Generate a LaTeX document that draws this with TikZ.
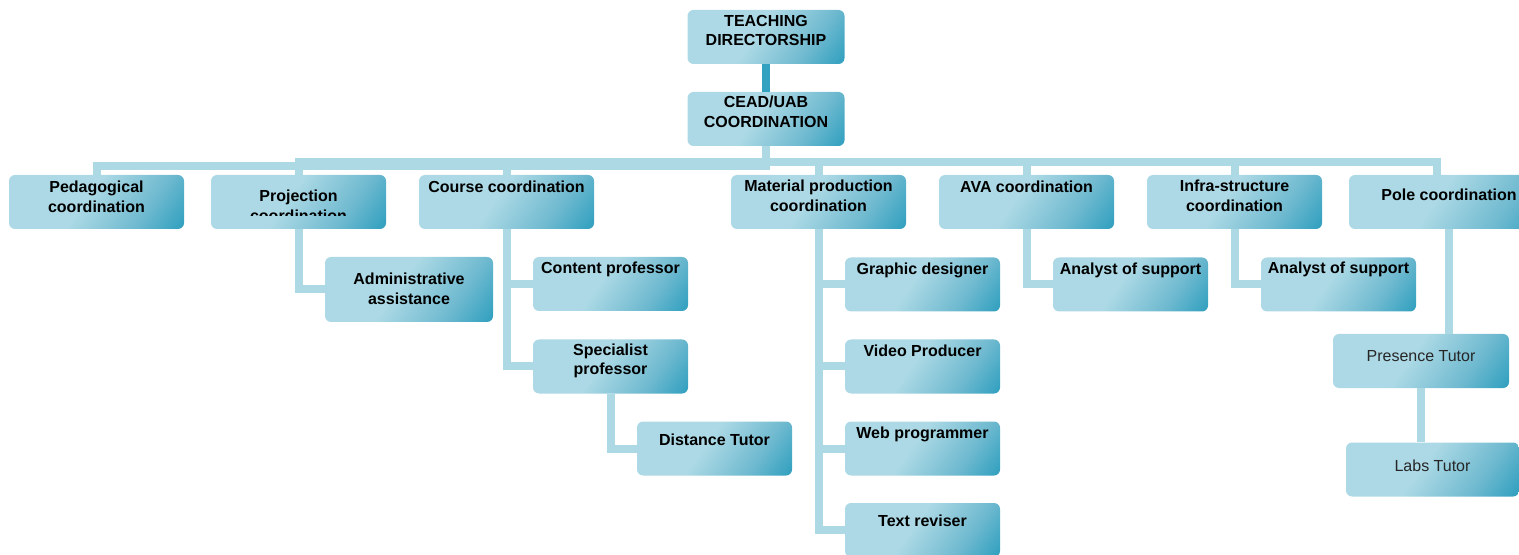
\documentclass[tikz,border=0pt]{standalone}
\usepackage{fontspec}
\setmainfont{Liberation Sans}
\usepackage{tikz}

\definecolor{boxlight}{RGB}{172,217,229}
\definecolor{boxmid}{RGB}{112,186,208}
\definecolor{boxdark}{RGB}{49,160,191}
\definecolor{linkblue}{RGB}{173,217,229}
\definecolor{headblue}{RGB}{51,161,192}

\pgfdeclarehorizontalshading{boxfill}{100bp}{color(0bp)=(boxlight); color(46bp)=(boxlight); color(68bp)=(boxmid); color(84bp)=(boxdark); color(100bp)=(boxdark)}

\tikzstyle{unit} = [rectangle, rounded corners=3pt, minimum width=87.5pt, minimum height=27pt, inner sep=0pt, shade, shading=boxfill, shading angle=-35]
\tikzstyle{subunit} = [unit, minimum width=77.5pt]
\tikzstyle{caption} = [anchor=north, inner sep=0pt, align=center, font=\fontsize{8}{9.75}\selectfont\bfseries]
\tikzstyle{lightcaption} = [caption, font=\fontsize{8}{9.75}\selectfont, text=black!85]
\tikzstyle{link} = [line width=4pt, draw=linkblue]
\tikzstyle{headlink} = [line width=4pt, draw=headblue]

\begin{document}
\begin{tikzpicture}[x=0.5pt, y=-0.5pt]
\useasboundingbox (0,0) rectangle (1519,555);

% top of the chart
\node (teach) [unit, minimum width=78.5pt, label={[caption, yshift=-2.6pt]north:TEACHING\\DIRECTORSHIP}] at (766,37) {};
\node (cead) [unit, minimum width=78.5pt, label={[caption, yshift=-2.1pt]north:CEAD/UAB\\COORDINATION}] at (766,119) {};
\draw [headlink] (teach) -- (cead);

% coordinations
\node (ped) [unit, label={[caption, yshift=-3.1pt]north:Pedagogical\\coordination}] at (96.5,202) {};
\node (proj) [unit] at (298.5,202) {};
\node (course) [unit, label={[caption, yshift=-3.1pt]north:Course coordination}] at (506.5,202) {};
\node (mat) [unit, label={[caption, yshift=-2.6pt]north:Material production\\coordination}] at (818.5,202) {};
\node (ava) [unit, label={[caption, yshift=-3.1pt]north:AVA coordination}] at (1026.5,202) {};
\node (infra) [unit, label={[caption, yshift=-2.6pt]north:Infra-structure\\coordination}] at (1234.5,202) {};
\node (pole) [unit, minimum width=100pt, label={[caption, yshift=-7.1pt]north:Pole coordination}] at (1449,202) {};

\begin{scope}
\clip (proj.north west) rectangle (proj.east |- 0,216);
\node (projtext) [caption] at ([yshift=-7.6pt]proj.north) {Projection\\coordination};
\end{scope}

\coordinate (bus) at (0,162);
\coordinate (lowbus) at (0,166);
\draw [link] (cead.south) -- (cead.south |- lowbus) -| (ped.north);
\foreach \unitname in {proj, course, mat, ava, infra}
  \draw [link] (cead.south) -- (cead.south |- bus) -| (\unitname.north);
\draw [link] (cead.south) -- (cead.south |- bus) -| ([xshift=-6pt]pole.north);

% staff
\node (admin) [unit, minimum width=84pt, minimum height=32.5pt, label={[caption, yshift=-8.1pt]north:Administrative\\assistance}] at (409,289.5) {};
\node (content) [subunit, label={[caption, yshift=-2.6pt]north:Content professor}] at (610.5,284) {};
\node (spec) [subunit, label={[caption, yshift=-2.1pt]north:Specialist\\professor}] at (610.5,366.5) {};
\node (dist) [subunit, label={[caption, yshift=-6.1pt]north:Distance Tutor}] at (714.5,448.5) {};
\node (graph) [subunit, label={[caption, yshift=-2.6pt]north:Graphic designer}] at (922.5,284.5) {};
\node (video) [subunit, label={[caption, yshift=-2.6pt]north:Video Producer}] at (922.5,366.5) {};
\node (web) [subunit, label={[caption, yshift=-2.6pt]north:Web programmer}] at (922.5,448.5) {};
\node (rev) [subunit, label={[caption, yshift=-6.1pt]north:Text reviser}] at (922.5,530) {};
\node (ana1) [subunit, label={[caption, yshift=-2.6pt]north:Analyst of support}] at (1130.5,284.5) {};
\node (ana2) [subunit, label={[caption, yshift=-2.1pt]north:Analyst of support}] at (1338.5,284.5) {};
\node (pres) [unit, minimum width=88pt, label={[lightcaption, yshift=-8.1pt]north:Presence Tutor}] at (1421,361) {};
\node (labs) [unit, minimum width=86.5pt, label={[lightcaption, yshift=-8.6pt]north:Labs Tutor}] at (1432.5,469.5) {};

\draw [link] (proj.south) |- (admin.west);
\draw [link] (course.south) |- (content.west);
\draw [link] (course.south) |- (spec.west);
\draw [link] (spec.south) |- (dist.west);
\foreach \staff in {graph, video, web, rev}
  \draw [link] (mat.south) |- (\staff.west);
\draw [link] (ava.south) |- (ana1.west);
\draw [link] (infra.south) |- (ana2.west);
\draw [link] (pole.south) -- (pole.south |- pres.north);
\draw [link] (pres.south) -- (pres.south |- labs.north);

\end{tikzpicture}
\end{document}
